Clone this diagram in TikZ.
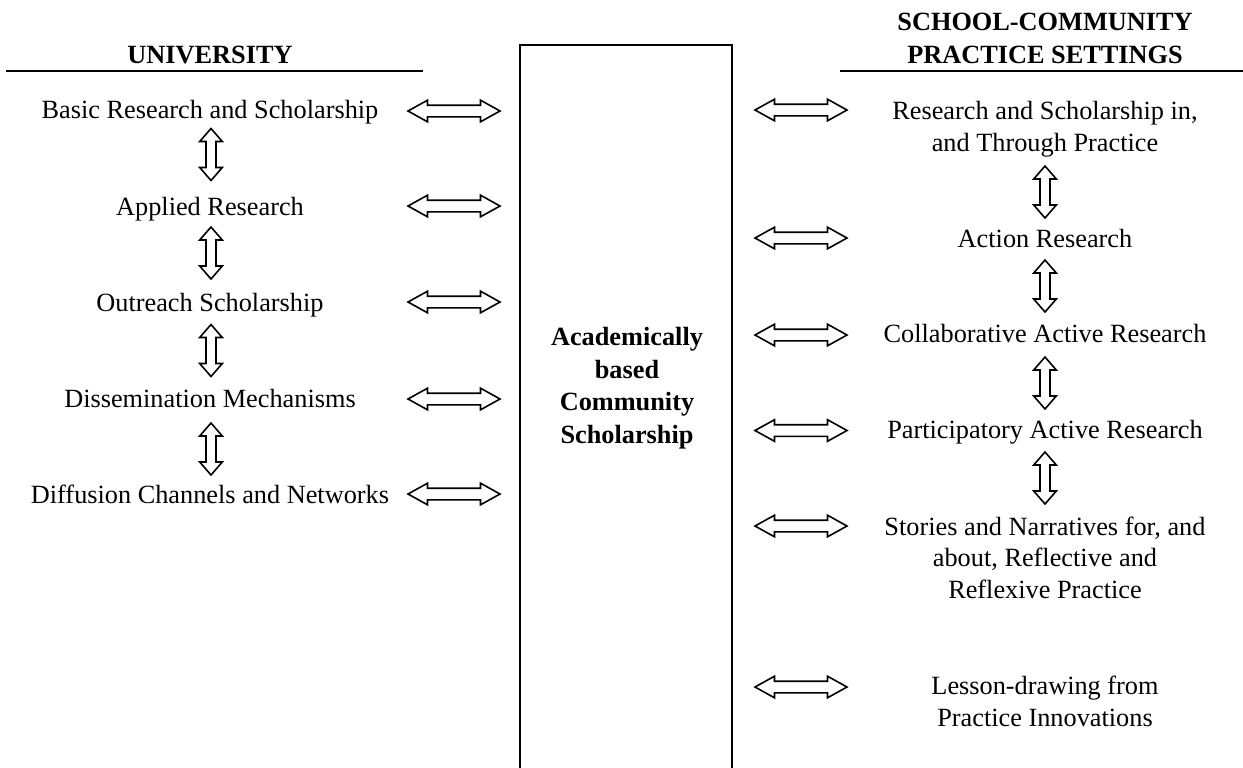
\documentclass[tikz,border=0pt]{standalone}
\usepackage{fontspec}
\setmainfont{Liberation Serif}
\usetikzlibrary{shapes.arrows}
\begin{document}
\begin{tikzpicture}[x=0.5pt,y=-0.5pt,
  txt/.style={anchor=base,align=center,inner sep=0pt,font=\fontsize{13.15}{15.75}\selectfont},
  head/.style={anchor=base,align=center,inner sep=0pt,font=\fontsize{13.15}{16.5}\selectfont\bfseries},
  core/.style={anchor=base,align=center,inner sep=0pt,font=\fontsize{13.15}{16.25}\selectfont\bfseries},
  harrow/.style={double arrow,draw,line width=0.8pt,minimum height=46pt,minimum width=0pt,
    inner xsep=0pt,inner ysep=2.5pt,double arrow head extend=2.5pt,double arrow tip angle=58},
  varrow/.style={double arrow,draw,line width=0.8pt,rotate=90,minimum height=26pt,minimum width=0pt,
    inner xsep=0pt,inner ysep=2.1pt,double arrow head extend=3.15pt,double arrow tip angle=82},
  rule/.style={line width=1pt},
  frame/.style={line width=0.8pt}]
\useasboundingbox (0,0) rectangle (1243,767);
% headers
\node[head] (uni) at (210,63) {UNIVERSITY};
\coordinate (ul1) at (6,71);
\coordinate (ul2) at (423,71);
\draw[rule] (ul1) -- (ul2);
\node[head] (scp) at (1045,63) {SCHOOL-COMMUNITY\\PRACTICE SETTINGS};
\coordinate (rl1) at (840,71);
\coordinate (rl2) at (1243,71);
\draw[rule] (rl1) -- (rl2);
% central box
\coordinate (b1) at (520,775);
\coordinate (b2) at (520,45);
\coordinate (b3) at (732,45);
\coordinate (b4) at (732,775);
\draw[frame] (b1) -- (b2) -- (b3) -- (b4);
\node[core] (acs) at (627,443) {Academically\\based\\Community\\Scholarship};
% left column
\node[txt] (l1) at (210,118) {Basic Research and Scholarship};
\node[txt] (l2) at (210,215) {Applied Research};
\node[txt] (l3) at (210,311) {Outreach Scholarship};
\node[txt] (l4) at (210,407) {Dissemination Mechanisms};
\node[txt] (l5) at (210,503) {Diffusion Channels and Networks};
\node[varrow] (lv1) at (211,154.5) {};
\node[varrow] (lv2) at (211,253) {};
\node[varrow] (lv3) at (211,350.5) {};
\node[varrow] (lv4) at (211,449) {};
\node[harrow] (lh1) at (454,111) {};
\node[harrow] (lh2) at (454,206) {};
\node[harrow] (lh3) at (454,302) {};
\node[harrow] (lh4) at (454,399) {};
\node[harrow] (lh5) at (454,494) {};
% right column
\node[txt] (r1) at (1045,151) {Research and Scholarship in,\\and Through Practice};
\node[txt] (r2) at (1045,247) {Action Research};
\node[txt] (r3) at (1045,342) {Collaborative Active Research};
\node[txt] (r4) at (1045,438.5) {Participatory Active Research};
\node[txt] (r5) at (1045,598) {Stories and Narratives for, and\\about, Reflective and\\Reflexive Practice};
\node[txt] (r6) at (1045,726) {Lesson-drawing from\\Practice Innovations};
\node[varrow] (rv1) at (1045,192) {};
\node[varrow] (rv2) at (1045,286) {};
\node[varrow] (rv3) at (1045,383) {};
\node[varrow] (rv4) at (1045,478) {};
\node[harrow] (rh1) at (801,110) {};
\node[harrow] (rh2) at (801,238) {};
\node[harrow] (rh3) at (801,335) {};
\node[harrow] (rh4) at (801,430.5) {};
\node[harrow] (rh5) at (801,526) {};
\node[harrow] (rh6) at (801,687) {};
\end{tikzpicture}
\end{document}
